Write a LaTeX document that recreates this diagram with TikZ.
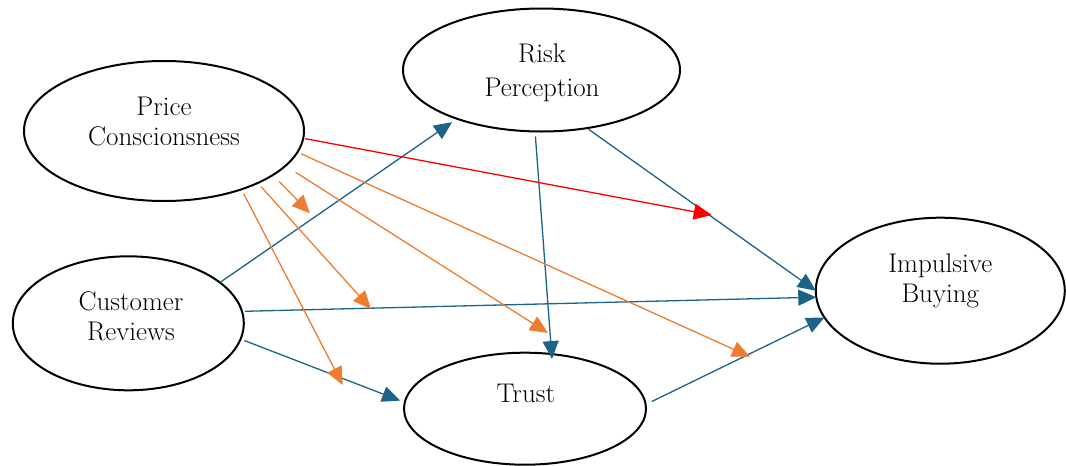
\documentclass[tikz,border=0pt]{standalone}
\usepackage{fontspec}
\usetikzlibrary{shapes.geometric,arrows.meta}
\definecolor{cblue}{RGB}{27,100,135}
\definecolor{corange}{RGB}{237,125,49}
\definecolor{cred}{RGB}{255,0,0}
\tikzset{
  var/.style={ellipse, draw=black, line width=2pt, inner sep=0pt, outer sep=0pt},
  lbl/.style={align=center, anchor=base, inner sep=0pt, font=\fontsize{27}{30}\selectfont},
  conn/.style={line width=1.3pt, -{Triangle[length=18pt,width=16pt]}},
  bluearrow/.style={conn, color=cblue},
  orangearrow/.style={conn, color=corange},
  redarrow/.style={conn, color=cred}
}
\begin{document}
\begin{tikzpicture}[x=1pt,y=-1pt]
\useasboundingbox (0,0) rectangle (1066,466);
% ellipses
\node[var, minimum width=280pt, minimum height=140pt] (pc) at (164,131) {};
\node[var, minimum width=277pt, minimum height=123pt] (rp) at (541.5,70) {};
\node[var, minimum width=231pt, minimum height=134pt] (cr) at (128.3,323.3) {};
\node[var, minimum width=242pt, minimum height=112pt] (tr) at (525,408.7) {};
\node[var, minimum width=249pt, minimum height=146pt] (ib) at (940.3,290.7) {};
% labels (anchor = baseline of last line)
\node[lbl] (pct) at (164,145) {Price\\Conscionsness};
\node[lbl, font=\fontsize{27}{34}\selectfont] (rpt) at (542,96.7) {Risk\\Perception};
\node[lbl] (crt) at (131,340.7) {Customer\\Reviews};
\node[lbl] (trt) at (525.8,402.3) {Trust};
\node[lbl] (ibt) at (940.3,302.7) {Impulsive\\Buying};
% free ends
\coordinate (ered) at (711.7,215);
\coordinate (ea) at (310,213.3);
\coordinate (eb) at (371,309);
\coordinate (ec) at (548,333);
\coordinate (ed) at (750,356.7);
\coordinate (ee) at (342.7,385);
% blue connectors
\draw[bluearrow, shorten >=6pt] (cr.24) -- (rp.210);
\draw[bluearrow, shorten <=2pt] (rp.308) -- (ib.180);
\draw[bluearrow, shorten <=5pt, shorten >=-5pt] (rp.264) -- (tr.64);
\draw[bluearrow, shorten <=3pt] (cr.6) -- (ib.183);
\draw[bluearrow, shorten <=4pt, shorten >=5pt] (cr.352) -- (tr.177);
\draw[bluearrow, shorten <=7pt] (tr.2) -- (ib.193);
% red connector
\draw[redarrow, shorten <=2pt] (pc.357) -- (ered);
% orange connectors
\draw[orangearrow, shorten <=9pt] (pc.338) -- (ea);
\draw[orangearrow, shorten <=5pt] (pc.331) -- (eb);
\draw[orangearrow, shorten <=12pt] (pc.344) -- (ec);
\draw[orangearrow, shorten <=4pt] (pc.351) -- (ed);
\draw[orangearrow, shorten <=5pt] (pc.323) -- (ee);
\end{tikzpicture}
\end{document}
